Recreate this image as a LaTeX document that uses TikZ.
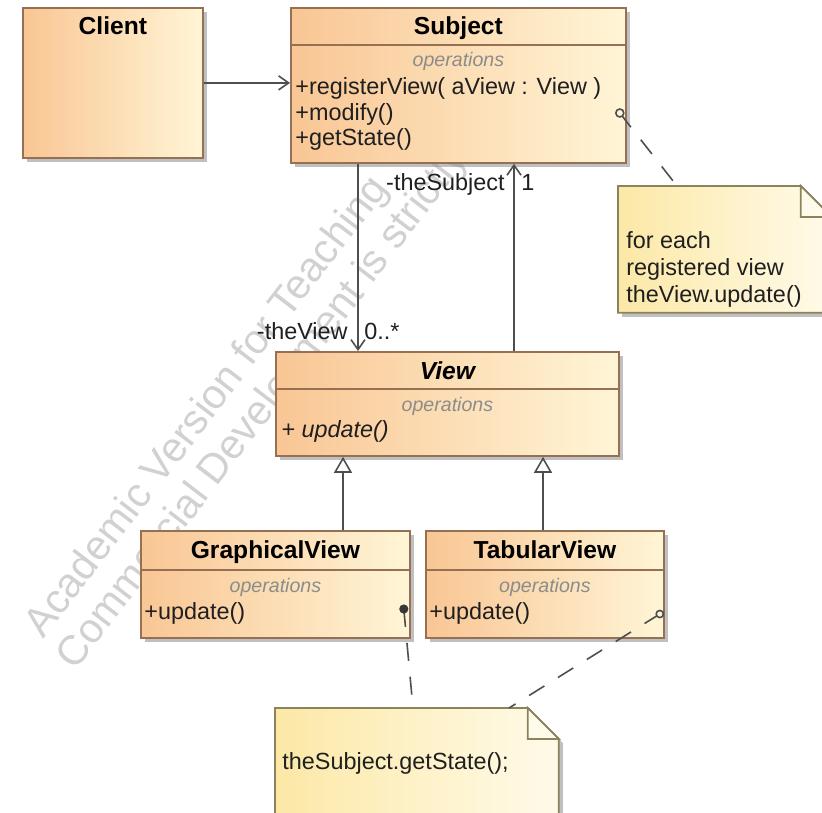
\documentclass[tikz,border=0pt]{standalone}
\usepackage{fontspec}
\setmainfont{Liberation Sans}
\usetikzlibrary{positioning, arrows.meta, shadows}

\definecolor{classL}{RGB}{249,198,148}
\definecolor{classR}{RGB}{255,245,214}
\definecolor{noteL}{RGB}{252,232,166}
\definecolor{noteR}{RGB}{255,251,234}
\definecolor{boxEdge}{RGB}{150,112,82}
\definecolor{noteEdge}{RGB}{140,130,92}
\definecolor{wire}{RGB}{78,78,78}

% outline of a note with a folded corner
\newcommand{\notepath}[2]{(#1.north west) -- ([xshift=-#2]#1.north east) -- ([yshift=-#2]#1.north east) -- (#1.south east) -- (#1.south west) -- cycle}

\begin{document}
\begin{tikzpicture}[x=0.5pt, y=-0.5pt,
    classbox/.style={draw=boxEdge, line width=0.9pt, left color=classL, right color=classR,
        anchor=north west, inner sep=0pt,
        drop shadow={shadow xshift=2pt, shadow yshift=-2pt, fill=black!45, opacity=0.55}},
    classname/.style={font=\fontsize{12.3}{14}\selectfont\bfseries, inner sep=0pt, text height=8.8pt, text depth=0pt},
    opslabel/.style={font=\fontsize{9.8}{11}\selectfont\itshape, text=black!45, inner sep=0pt, anchor=base},
    method/.style={font=\fontsize{11.7}{13}\selectfont, text=black!88, inner sep=0pt, anchor=base west},
    role/.style={font=\fontsize{11.7}{13}\selectfont, text=black!88, inner sep=0pt},
    notebox/.style={anchor=north west, inner sep=0pt},
    notepaper/.style={left color=noteL, right color=noteR, draw=noteEdge, line width=0.9pt,
        drop shadow={shadow xshift=2pt, shadow yshift=-2pt, fill=black!45, opacity=0.55}},
    assoc/.style={draw=wire, line width=0.8pt, -{Straight Barb[length=5pt, width=7pt]}},
    generalize/.style={draw=wire, line width=0.8pt, -{Triangle[open, length=8pt, width=9pt, fill=white]}},
    notelink/.style={draw=wire, line width=0.8pt, dash pattern=on 9pt off 8pt},
    watermark/.style={font=\fontsize{20.7}{23}\selectfont, text=black!18, inner sep=0pt, rotate=52.5, anchor=base west}
]
    \useasboundingbox (0,0) rectangle (822,812);
    \clip (0,0) rectangle (822,812);

    % watermark behind the diagram
    \node[watermark] (markA) at (43,640) {Academic Version for Teaching};
    \node[watermark] (markB) at (75,672) {Commercial Development is strictly};

    % classes
    \node[classbox, minimum width=90pt, minimum height=75pt] (client) at (22,7) {};
    \node[classname, below=5pt of client.north] (clientName) {Client};

    \node[classbox, minimum width=167.5pt, minimum height=77.5pt] (subject) at (290,7) {};
    \node[classname, below=5pt of subject.north] (subjectName) {Subject};
    \draw[boxEdge, line width=0.9pt] ([yshift=-19pt]subject.north west) -- ([yshift=-19pt]subject.north east);
    \node[opslabel] (subjectOps) at ([yshift=-30pt]subject.north) {operations};
    \node[method] (subOp1) at ([shift={(2.5pt,-44pt)}]subject.north west) {+registerView( aView : View )};
    \node[method] (subOp2) at ([yshift=-12.75pt]subOp1.base west) {+modify()};
    \node[method] (subOp3) at ([yshift=-12.75pt]subOp2.base west) {+getState()};

    \node[classbox, minimum width=171.5pt, minimum height=52pt] (view) at (275,351) {};
    \node[classname, below=5pt of view.north, font=\fontsize{12.3}{14}\selectfont\bfseries\itshape] (viewName) {View};
    \draw[boxEdge, line width=0.9pt] ([yshift=-19pt]view.north west) -- ([yshift=-19pt]view.north east);
    \node[opslabel] (viewOps) at ([yshift=-30pt]view.north) {operations};
    \node[method, font=\fontsize{11.7}{13}\selectfont\itshape] (viewOp1) at ([shift={(3pt,-43pt)}]view.north west) {+ update()};

    \node[classbox, minimum width=134.5pt, minimum height=53.5pt] (graphical) at (140,530) {};
    \node[classname, below=5pt of graphical.north] (graphicalName) {GraphicalView};
    \draw[boxEdge, line width=0.9pt] ([yshift=-20pt]graphical.north west) -- ([yshift=-20pt]graphical.north east);
    \node[opslabel] (graphicalOps) at ([yshift=-31pt]graphical.north) {operations};
    \node[method] (graphicalOp1) at ([shift={(2pt,-44.5pt)}]graphical.north west) {+update()};

    \node[classbox, minimum width=119pt, minimum height=53.5pt] (tabular) at (425,530) {};
    \node[classname, below=5pt of tabular.north] (tabularName) {TabularView};
    \draw[boxEdge, line width=0.9pt] ([yshift=-20pt]tabular.north west) -- ([yshift=-20pt]tabular.north east);
    \node[opslabel] (tabularOps) at ([yshift=-31pt]tabular.north) {operations};
    \node[method] (tabularOp1) at ([shift={(2pt,-44.5pt)}]tabular.north west) {+update()};

    % notes
    \node[notebox, minimum width=106.5pt, minimum height=63pt] (loopNote) at (618,186) {};
    \shade[notepaper] \notepath{loopNote}{15.5pt};
    \draw[noteEdge, line width=0.9pt, fill=noteR] ([xshift=-15.5pt]loopNote.north east) |- ([yshift=-15.5pt]loopNote.north east) -- cycle;
    \node[method] (loopLine1) at ([shift={(4pt,-31.5pt)}]loopNote.north west) {for each};
    \node[method] (loopLine2) at ([yshift=-13pt]loopLine1.base west) {registered view};
    \node[method] (loopLine3) at ([yshift=-13.5pt]loopLine2.base west) {theView.update()};

    \node[notebox, minimum width=141.5pt, minimum height=65pt] (stateNote) at (275,708) {};
    \shade[notepaper] \notepath{stateNote}{15.5pt};
    \draw[noteEdge, line width=0.9pt, fill=noteR] ([xshift=-15.5pt]stateNote.north east) |- ([yshift=-15.5pt]stateNote.north east) -- cycle;
    \node[method] (stateLine) at ([shift={(3.5pt,-30.5pt)}]stateNote.north west) {theSubject.getState();};

    % associations
    \draw[assoc] (client.east) -- (client.east -| subject.west);

    \coordinate (viewEnd) at ([xshift=41.5pt]view.north west);
    \draw[assoc] (viewEnd |- subject.south) -- (viewEnd);
    \node[role, anchor=base east] (roleView) at ([shift={(-5pt,6pt)}]viewEnd) {-theView};
    \node[role, anchor=base west] (multView) at ([shift={(3pt,6pt)}]viewEnd) {0..*};

    \coordinate (subjectEnd) at ([xshift=119.5pt]view.north west |- subject.south);
    \draw[assoc] ([xshift=119.5pt]view.north west) -- (subjectEnd);
    \node[role, anchor=base east] (roleSubject) at ([shift={(-4.5pt,-13.5pt)}]subjectEnd) {-theSubject};
    \node[role, anchor=base west] (multSubject) at ([shift={(3.5pt,-13.5pt)}]subjectEnd) {1};

    % generalizations
    \draw[generalize] ([xshift=101.5pt]graphical.north west) -- ([xshift=101.5pt]graphical.north west |- view.south);
    \draw[generalize] ([xshift=59pt]tabular.north west) -- ([xshift=59pt]tabular.north west |- view.south);

    % note anchors
    \coordinate (subjectPin) at ([shift={(-3.5pt,-53pt)}]subject.north east);
    \coordinate (graphicalPin) at ([shift={(-3.5pt,-39.5pt)}]graphical.north east);
    \coordinate (tabularPin) at ([shift={(-2.5pt,-42pt)}]tabular.north east);
    \draw[notelink] (subjectPin) -- ([xshift=29.5pt]loopNote.north west);
    \draw[notelink] (graphicalPin) -- ([xshift=69pt]stateNote.north west);
    \draw[notelink] (tabularPin) -- ([xshift=117pt]stateNote.north west);
    \draw[wire, line width=0.8pt, fill=classR] (subjectPin) circle (2pt);
    \fill[wire!70!black] (graphicalPin) circle (2.3pt);
    \draw[wire, line width=0.8pt, fill=classR] (tabularPin) circle (1.8pt);
\end{tikzpicture}
\end{document}
